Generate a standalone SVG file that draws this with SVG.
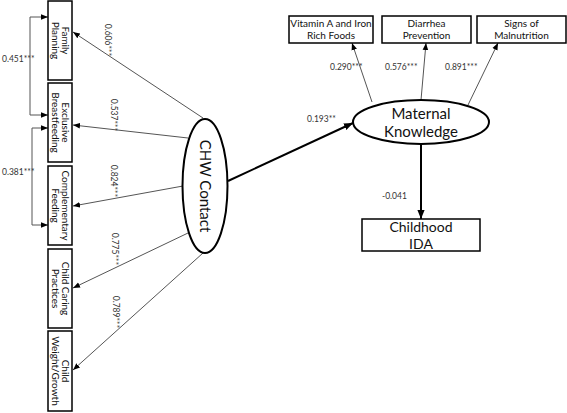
<svg xmlns="http://www.w3.org/2000/svg" width="567" height="413" viewBox="0 0 567 413">
<style>
.box{fill:#fff;stroke:#000;stroke-width:1.5}
.ell{fill:#fff;stroke:#000;stroke-width:2}
.t{font-family:Lato,"Open Sans",sans-serif;fill:#111;text-anchor:middle}
.s{font-size:10px}
.b{font-size:15px}
.m{font-size:14px}
.lbl{font-family:Lato,"Open Sans",sans-serif;font-size:8.5px;fill:#333}
.thin{stroke:#555;stroke-width:1;fill:none}
.thick{stroke:#000;stroke-width:2;fill:none}
</style>
<defs>
<marker id="ah" viewBox="0 0 10 10" refX="10" refY="5" markerWidth="7" markerHeight="7" markerUnits="userSpaceOnUse" orient="auto-start-reverse"><path d="M0,1 L10,5 L0,9 z" fill="#000"/></marker>
<marker id="ahb" viewBox="0 0 10 10" refX="10" refY="5" markerWidth="9" markerHeight="9" markerUnits="userSpaceOnUse" orient="auto"><path d="M0,1 L10,5 L0,9 z" fill="#000"/></marker>
</defs>
<rect width="567" height="413" fill="#fff"/>
<g id="connectors">
<path class="thin" d="M203,118 L73,32" marker-end="url(#ah)"/>
<path class="thin" d="M188,138 L73,125" marker-end="url(#ah)"/>
<path class="thin" d="M183,186 L73,206" marker-end="url(#ah)"/>
<path class="thin" d="M188,233 L73,288" marker-end="url(#ah)"/>
<path class="thin" d="M203,253 L73,370" marker-end="url(#ah)"/>
<path class="thin" d="M48,17 H30 V115 H48" marker-start="url(#ah)" marker-end="url(#ah)"/>
<path class="thin" d="M48,128 H32 V225 H48" marker-start="url(#ah)" marker-end="url(#ah)"/>
<path class="thin" d="M372,102 L352,43" marker-end="url(#ah)"/>
<path class="thin" d="M421,100 L426,43" marker-end="url(#ah)"/>
<path class="thin" d="M468,105 L498,43" marker-end="url(#ah)"/>
<path class="thick" d="M228,181 L353,123" marker-end="url(#ahb)"/>
<path class="thick" d="M421,144 L421,219" marker-end="url(#ahb)"/>
<g class="lbl">
<text transform="translate(105,40) rotate(90)" text-anchor="middle">0.606***</text>
<text transform="translate(111,115) rotate(90)" text-anchor="middle">0.537***</text>
<text transform="translate(111,181) rotate(90)" text-anchor="middle">0.824***</text>
<text transform="translate(112,249) rotate(90)" text-anchor="middle">0.775***</text>
<text transform="translate(113,312) rotate(90)" text-anchor="middle">0.789***</text>
<text x="2" y="62">0.451***</text>
<text x="2" y="175">0.381***</text>
<text x="330" y="70">0.290***</text>
<text x="385" y="70">0.576***</text>
<text x="445" y="70">0.891***</text>
<text x="307" y="122">0.193**</text>
<text x="382" y="199">-0.041</text>
</g>
</g>
<g id="family-planning">
<rect class="box" x="48" y="1" width="24" height="79"/>
<text class="t s" transform="translate(60,40.5) rotate(90)"><tspan x="0" y="-1.5">Family</tspan><tspan x="0" y="8.5">Planning</tspan></text>
</g>
<g id="exclusive-breastfeeding">
<rect class="box" x="48" y="83" width="24" height="79"/>
<text class="t s" transform="translate(60,122.5) rotate(90)"><tspan x="0" y="-1.5">Exclusive</tspan><tspan x="0" y="8.5">Breastfeeding</tspan></text>
</g>
<g id="complementary-feeding">
<rect class="box" x="48" y="166" width="24" height="79"/>
<text class="t s" transform="translate(60,205.5) rotate(90)"><tspan x="0" y="-1.5">Complementary</tspan><tspan x="0" y="8.5">Feeding</tspan></text>
</g>
<g id="child-caring">
<rect class="box" x="48" y="249" width="24" height="79"/>
<text class="t s" transform="translate(60,288.5) rotate(90)"><tspan x="0" y="-1.5">Child Caring</tspan><tspan x="0" y="8.5">Practices</tspan></text>
</g>
<g id="child-weight">
<rect class="box" x="48" y="331" width="24" height="80"/>
<text class="t s" transform="translate(60,371) rotate(90)"><tspan x="0" y="-1.5">Child</tspan><tspan x="0" y="8.5">Weight/Growth</tspan></text>
</g>
<g id="chw-contact">
<ellipse class="ell" cx="205" cy="186" rx="22.5" ry="67"/>
<text class="t b" transform="translate(205,186) rotate(90)" y="5">CHW Contact</text>
</g>
<g id="maternal-knowledge">
<ellipse class="ell" cx="421" cy="122" rx="68" ry="22"/>
<text class="t b" x="421" y="119">Maternal</text>
<text class="t b" x="421" y="137">Knowledge</text>
</g>
<g id="vitamin-a">
<rect class="box" x="289" y="16" width="84" height="27"/>
<text class="t s" x="331" y="27">Vitamin A and Iron</text>
<text class="t s" x="331" y="39">Rich Foods</text>
</g>
<g id="diarrhea">
<rect class="box" x="382" y="16" width="89" height="27"/>
<text class="t s" x="426.5" y="27">Diarrhea</text>
<text class="t s" x="426.5" y="39">Prevention</text>
</g>
<g id="malnutrition">
<rect class="box" x="477" y="16" width="89" height="27"/>
<text class="t s" x="521.5" y="27">Signs of</text>
<text class="t s" x="521.5" y="39">Malnutrition</text>
</g>
<g id="childhood-ida">
<rect class="box" x="362" y="219" width="118" height="32"/>
<text class="t m" x="421" y="232">Childhood</text>
<text class="t m" x="421" y="248.5">IDA</text>
</g>
</svg>
